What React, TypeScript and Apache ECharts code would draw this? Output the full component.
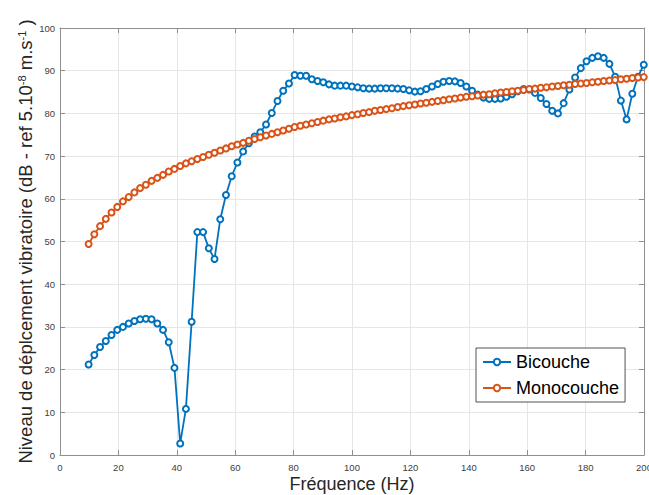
import React, { useEffect, useRef } from 'react';
import * as echarts from 'echarts';

// Frequencies (Hz) of the measured points
const frequencies = [
  9.8, 11.76, 13.72, 15.68, 17.64, 19.6, 21.56, 23.52, 25.48, 27.44,
  29.4, 31.36, 33.32, 35.28, 37.24, 39.2, 41.16, 43.12, 45.08, 47.04,
  49.0, 50.96, 52.92, 54.88, 56.84, 58.8, 60.76, 62.72, 64.68, 66.64,
  68.6, 70.56, 72.52, 74.48, 76.44, 78.4, 80.36, 82.32, 84.28, 86.24,
  88.2, 90.16, 92.12, 94.08, 96.04, 98.0, 99.96, 101.92, 103.88, 105.84,
  107.8, 109.76, 111.72, 113.68, 115.64, 117.6, 119.56, 121.52, 123.48, 125.44,
  127.4, 129.36, 131.32, 133.28, 135.24, 137.2, 139.16, 141.12, 143.08, 145.04,
  147.0, 148.96, 150.92, 152.88, 154.84, 156.8, 158.76, 160.72, 162.68, 164.64,
  166.6, 168.56, 170.52, 172.48, 174.44, 176.4, 178.36, 180.32, 182.28, 184.24,
  186.2, 188.16, 190.12, 192.08, 194.04, 196.0, 197.96, 199.92,
];

const bicouche = [
  21.2, 23.4, 25.3, 26.7, 28.1, 29.3, 30.0, 30.8, 31.4, 31.8,
  31.9, 31.8, 30.8, 29.3, 26.4, 20.4, 2.7, 10.8, 31.2, 52.2,
  52.2, 48.4, 45.9, 55.2, 60.9, 65.3, 68.5, 71.1, 73.0, 74.6,
  75.6, 77.4, 80.1, 82.9, 85.3, 87.0, 89.0, 88.8, 88.8, 88.0,
  87.6, 87.3, 86.8, 86.5, 86.5, 86.5, 86.3, 86.1, 85.9, 85.8,
  85.8, 85.9, 85.9, 85.9, 85.8, 85.7, 85.4, 85.1, 85.2, 85.7,
  86.3, 86.9, 87.4, 87.6, 87.5, 87.1, 86.3, 85.3, 84.4, 83.7,
  83.4, 83.4, 83.5, 83.9, 84.5, 85.2, 85.7, 85.6, 84.8, 83.6,
  82.2, 80.6, 80.0, 82.4, 85.6, 88.4, 90.6, 92.2, 93.0, 93.4,
  93.0, 91.6, 88.6, 83.0, 78.6, 84.6, 88.6, 91.4,
];

const monocouche = [
  49.4, 51.7, 53.6, 55.3, 56.8, 58.1, 59.4, 60.4, 61.5, 62.5,
  63.3, 64.2, 64.9, 65.6, 66.4, 67.0, 67.7, 68.3, 68.8, 69.3,
  69.8, 70.3, 70.8, 71.3, 71.8, 72.3, 72.7, 73.1, 73.6, 74.0,
  74.4, 74.8, 75.2, 75.6, 76.0, 76.4, 76.8, 77.1, 77.4, 77.7,
  78.0, 78.3, 78.6, 78.8, 79.1, 79.3, 79.6, 79.8, 80.1, 80.3,
  80.6, 80.8, 81.0, 81.2, 81.5, 81.7, 81.9, 82.1, 82.3, 82.5,
  82.7, 82.9, 83.1, 83.3, 83.5, 83.7, 83.9, 84.0, 84.2, 84.4,
  84.5, 84.7, 84.9, 85.0, 85.2, 85.3, 85.5, 85.7, 85.8, 86.0,
  86.1, 86.3, 86.4, 86.6, 86.7, 86.9, 87.0, 87.1, 87.3, 87.4,
  87.6, 87.7, 87.8, 88.0, 88.1, 88.3, 88.4, 88.5,
];

const seriesNames = ['Bicouche', 'Monocouche'];
const xLabel = 'Fréquence (Hz)';

const FONT = "'Liberation Sans', Arial, Helvetica, sans-serif";
const AXIS_COLOR = '#8f8f8f';
const GRID_COLOR = '#e6e6e6';
const LABEL_COLOR = '#404040';
const TITLE_COLOR = '#262626';
const BLUE = '#0072BD';
const ORANGE = '#D95319';

export default function App() {
  const ref = useRef<HTMLDivElement>(null);

  useEffect(() => {
    if (!ref.current) return;
    const chart = echarts.init(ref.current, undefined, { renderer: 'svg' });

    const mkX = (pos: 'bottom' | 'top', main: boolean) => ({
      type: 'value',
      position: pos,
      min: 0,
      max: 200,
      interval: 20,
      name: main ? xLabel : '',
      nameLocation: 'middle',
      nameGap: 20,
      nameMoveOverlap: false,
      nameTextStyle: { fontSize: 18, color: TITLE_COLOR, fontFamily: FONT },
      axisLine: { show: true, onZero: false, lineStyle: { color: AXIS_COLOR, width: 1 } },
      axisTick: { show: true, inside: true, length: 5, lineStyle: { color: AXIS_COLOR } },
      axisLabel: {
        show: main,
        color: LABEL_COLOR,
        fontSize: 9.5,
        fontFamily: FONT,
        margin: 7,
      },
      splitLine: { show: main, lineStyle: { color: GRID_COLOR, width: 1 } },
    });

    const mkY = (pos: 'left' | 'right', main: boolean) => ({
      type: 'value',
      position: pos,
      min: 0,
      max: 100,
      interval: 10,
      name: main
        ? '{a|Niveau de déplcement vibratoire (dB - ref 5.10}{s|-8}{a| m.s}{s|-1}{a| )}'
        : '',
      nameLocation: 'middle',
      nameGap: 25,
      nameMoveOverlap: false,
      nameTextStyle: {
        color: TITLE_COLOR,
        fontFamily: FONT,
        rich: {
          a: { fontSize: 18.5, lineHeight: 19, verticalAlign: 'bottom', color: TITLE_COLOR, fontFamily: FONT },
          s: { fontSize: 11, lineHeight: 11, verticalAlign: 'top', padding: [0, 0, 10, 0], color: TITLE_COLOR, fontFamily: FONT },
        },
      },
      axisLine: { show: true, onZero: false, lineStyle: { color: AXIS_COLOR, width: 1 } },
      axisTick: { show: true, inside: true, length: 5, lineStyle: { color: AXIS_COLOR } },
      axisLabel: {
        show: main,
        color: LABEL_COLOR,
        fontSize: 9.5,
        fontFamily: FONT,
        margin: 5,
      },
      splitLine: { show: main, lineStyle: { color: GRID_COLOR, width: 1 } },
    });

    const mkSeries = (name: string, values: number[], color: string) => ({
      name,
      type: 'line',
      xAxisIndex: 0,
      yAxisIndex: 0,
      data: frequencies.map((f, i) => [f, values[i]]),
      symbol: 'emptyCircle',
      symbolSize: 6,
      showAllSymbol: true,
      lineStyle: { color, width: 1.8 },
      itemStyle: { color, borderColor: color, borderWidth: 1.4 },
      emphasis: { disabled: true },
    });

    chart.setOption({
      animation: false,
      backgroundColor: '#ffffff',
      textStyle: { fontFamily: FONT },
      grid: {
        left: 60,
        right: 5,
        top: 28,
        bottom: 40,
        containLabel: false,
        outerBoundsMode: 'none',
      },
      xAxis: [mkX('bottom', true), mkX('top', false)],
      yAxis: [mkY('left', true), mkY('right', false)],
      legend: {
        data: seriesNames,
        orient: 'vertical',
        left: 476,
        top: 348,
        itemWidth: 28,
        itemHeight: 8,
        itemGap: 6,
        padding: [4, 6, 4, 6],
        borderColor: '#262626',
        borderWidth: 0.8,
        backgroundColor: '#ffffff',
        textStyle: { fontSize: 18, color: '#000000', lineHeight: 20, fontFamily: FONT },
      },
      series: [
        mkSeries(seriesNames[0], bicouche, BLUE),
        mkSeries(seriesNames[1], monocouche, ORANGE),
      ],
    });

    return () => chart.dispose();
  }, []);

  return (
    <div
      ref={ref}
      style={{ position: 'fixed', left: 0, top: 0, width: 649, height: 495 }}
    />
  );
}
